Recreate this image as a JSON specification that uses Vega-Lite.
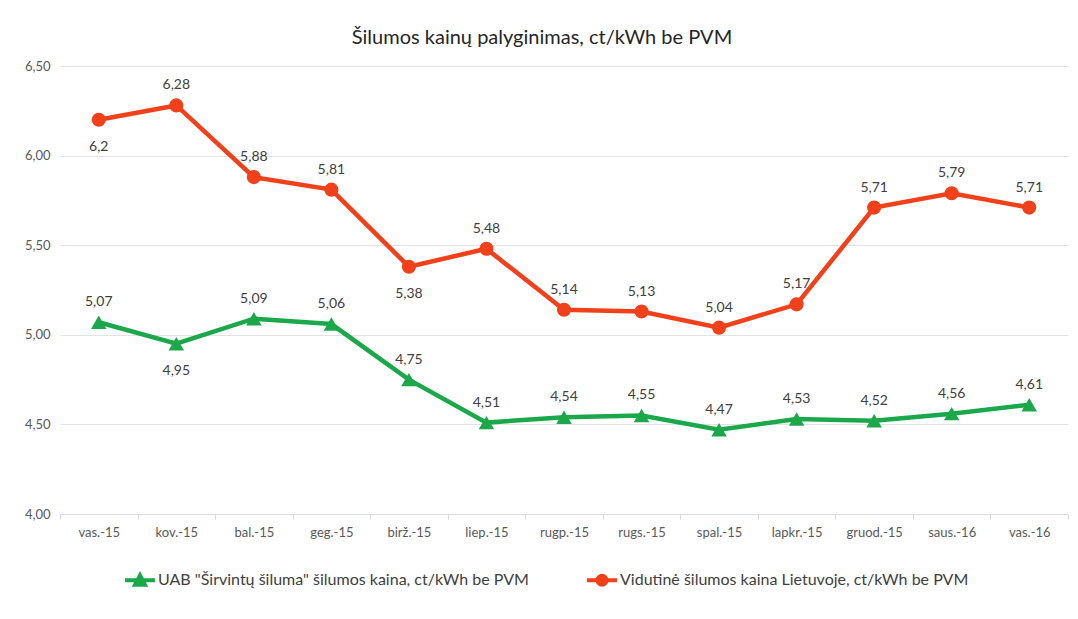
{
  "$schema": "https://vega.github.io/schema/vega-lite/v6.json",
  "width": 1008,
  "height": 448,
  "autosize": {"type": "none"},
  "padding": {"left": 60, "top": 66, "right": 10, "bottom": 105},
  "background": "white",
  "config": {
    "locale": {"number": {"decimal": ",", "thousands": " ", "grouping": [3], "currency": ["", " €"]}},
    "font": "Lato",
    "view": {"stroke": null}
  },
  "title": {"text": "Šilumos kainų palyginimas, ct/kWh be PVM", "fontSize": 20, "fontWeight": "normal", "color": "#262626", "offset": 12, "dx": -22},
  "data": {"values": [
    {"m": "vas.-15", "s": "UAB \"Širvintų šiluma\" šilumos kaina, ct/kWh be PVM", "v": 5.07},
    {"m": "vas.-15", "s": "Vidutinė šilumos kaina Lietuvoje, ct/kWh be PVM", "v": 6.2},
    {"m": "kov.-15", "s": "UAB \"Širvintų šiluma\" šilumos kaina, ct/kWh be PVM", "v": 4.95},
    {"m": "kov.-15", "s": "Vidutinė šilumos kaina Lietuvoje, ct/kWh be PVM", "v": 6.28},
    {"m": "bal.-15", "s": "UAB \"Širvintų šiluma\" šilumos kaina, ct/kWh be PVM", "v": 5.09},
    {"m": "bal.-15", "s": "Vidutinė šilumos kaina Lietuvoje, ct/kWh be PVM", "v": 5.88},
    {"m": "geg.-15", "s": "UAB \"Širvintų šiluma\" šilumos kaina, ct/kWh be PVM", "v": 5.06},
    {"m": "geg.-15", "s": "Vidutinė šilumos kaina Lietuvoje, ct/kWh be PVM", "v": 5.81},
    {"m": "birž.-15", "s": "UAB \"Širvintų šiluma\" šilumos kaina, ct/kWh be PVM", "v": 4.75},
    {"m": "birž.-15", "s": "Vidutinė šilumos kaina Lietuvoje, ct/kWh be PVM", "v": 5.38},
    {"m": "liep.-15", "s": "UAB \"Širvintų šiluma\" šilumos kaina, ct/kWh be PVM", "v": 4.51},
    {"m": "liep.-15", "s": "Vidutinė šilumos kaina Lietuvoje, ct/kWh be PVM", "v": 5.48},
    {"m": "rugp.-15", "s": "UAB \"Širvintų šiluma\" šilumos kaina, ct/kWh be PVM", "v": 4.54},
    {"m": "rugp.-15", "s": "Vidutinė šilumos kaina Lietuvoje, ct/kWh be PVM", "v": 5.14},
    {"m": "rugs.-15", "s": "UAB \"Širvintų šiluma\" šilumos kaina, ct/kWh be PVM", "v": 4.55},
    {"m": "rugs.-15", "s": "Vidutinė šilumos kaina Lietuvoje, ct/kWh be PVM", "v": 5.13},
    {"m": "spal.-15", "s": "UAB \"Širvintų šiluma\" šilumos kaina, ct/kWh be PVM", "v": 4.47},
    {"m": "spal.-15", "s": "Vidutinė šilumos kaina Lietuvoje, ct/kWh be PVM", "v": 5.04},
    {"m": "lapkr.-15", "s": "UAB \"Širvintų šiluma\" šilumos kaina, ct/kWh be PVM", "v": 4.53},
    {"m": "lapkr.-15", "s": "Vidutinė šilumos kaina Lietuvoje, ct/kWh be PVM", "v": 5.17},
    {"m": "gruod.-15", "s": "UAB \"Širvintų šiluma\" šilumos kaina, ct/kWh be PVM", "v": 4.52},
    {"m": "gruod.-15", "s": "Vidutinė šilumos kaina Lietuvoje, ct/kWh be PVM", "v": 5.71},
    {"m": "saus.-16", "s": "UAB \"Širvintų šiluma\" šilumos kaina, ct/kWh be PVM", "v": 4.56},
    {"m": "saus.-16", "s": "Vidutinė šilumos kaina Lietuvoje, ct/kWh be PVM", "v": 5.79},
    {"m": "vas.-16", "s": "UAB \"Širvintų šiluma\" šilumos kaina, ct/kWh be PVM", "v": 4.61},
    {"m": "vas.-16", "s": "Vidutinė šilumos kaina Lietuvoje, ct/kWh be PVM", "v": 5.71}
  ]},
  "encoding": {
    "x": {
      "field": "m", "type": "ordinal", "sort": null, "title": null,
      "axis": {"labelAngle": 0, "labelFontSize": 13, "labelColor": "#595959", "domainColor": "#d9d9d9", "tickColor": "#d9d9d9", "tickSize": 5, "tickBand": "extent", "labelPadding": 7, "grid": false}
    },
    "y": {
      "field": "v", "type": "quantitative", "title": null,
      "scale": {"domain": [4, 6.5], "nice": false},
      "axis": {"values": [4, 4.5, 5, 5.5, 6, 6.5], "format": ".2f", "labelFontSize": 13, "labelColor": "#595959", "domain": false, "ticks": false, "gridColor": "#e3e3e3", "labelPadding": 10}
    },
    "color": {
      "field": "s", "type": "nominal",
      "scale": {"domain": ["UAB \"Širvintų šiluma\" šilumos kaina, ct/kWh be PVM", "Vidutinė šilumos kaina Lietuvoje, ct/kWh be PVM"], "range": ["#1ba84a", "#f2401b"]},
      "legend": {
        "orient": "none", "legendX": 63, "legendY": 497, "direction": "horizontal", "title": null,
        "labelFontSize": 16, "labelColor": "#404040", "labelLimit": 600, "labelOffset": 1,
        "symbolSize": 900, "symbolStrokeWidth": 4, "columnPadding": 50, "symbolType": "M-1,0H1M-0.33,0.3L0,-0.33L0.33,0.3Z",
        "encode": {"symbols": {"update": {
          "shape": {"signal": "substring(datum.value, 0, 3) === 'UAB' ? 'M-1,0H1M-0.33,0.3L0,-0.33L0.33,0.3Z' : 'M-1,0H1M0.3,0A0.3,0.3 0 1,1 -0.3,0A0.3,0.3 0 1,1 0.3,0Z'"},
          "fill": {"signal": "scale('color', datum.value)"},
          "stroke": {"signal": "scale('color', datum.value)"},
          "strokeWidth": {"value": 4}
        }}}
      }
    }
  },
  "layer": [
    {
      "mark": {"type": "line", "strokeWidth": 4.5}
    },
    {
      "transform": [{"filter": "substring(datum.s, 0, 3) === 'UAB'"}],
      "mark": {"type": "point", "filled": true, "opacity": 1, "size": 240, "shape": "triangle-up"}
    },
    {
      "transform": [{"filter": "substring(datum.s, 0, 3) === 'Vid'"}],
      "mark": {"type": "point", "filled": true, "opacity": 1, "size": 200, "shape": "circle"}
    },
    {
      "transform": [{"filter": "!((substring(datum.s, 0, 3) === 'Vid' && (datum.m === 'vas.-15' || datum.m === 'birž.-15')) || (substring(datum.s, 0, 3) === 'UAB' && datum.m === 'kov.-15'))"}],
      "mark": {"type": "text", "dy": -20, "fontSize": 14, "color": "#404040", "baseline": "middle"},
      "encoding": {"text": {"field": "v", "type": "quantitative", "format": "~g"}, "color": {"value": "#404040"}}
    },
    {
      "transform": [{"filter": "(substring(datum.s, 0, 3) === 'Vid' && (datum.m === 'vas.-15' || datum.m === 'birž.-15')) || (substring(datum.s, 0, 3) === 'UAB' && datum.m === 'kov.-15')"}],
      "mark": {"type": "text", "dy": 27, "fontSize": 14, "color": "#404040", "baseline": "middle"},
      "encoding": {"text": {"field": "v", "type": "quantitative", "format": "~g"}, "color": {"value": "#404040"}}
    }
  ]
}
